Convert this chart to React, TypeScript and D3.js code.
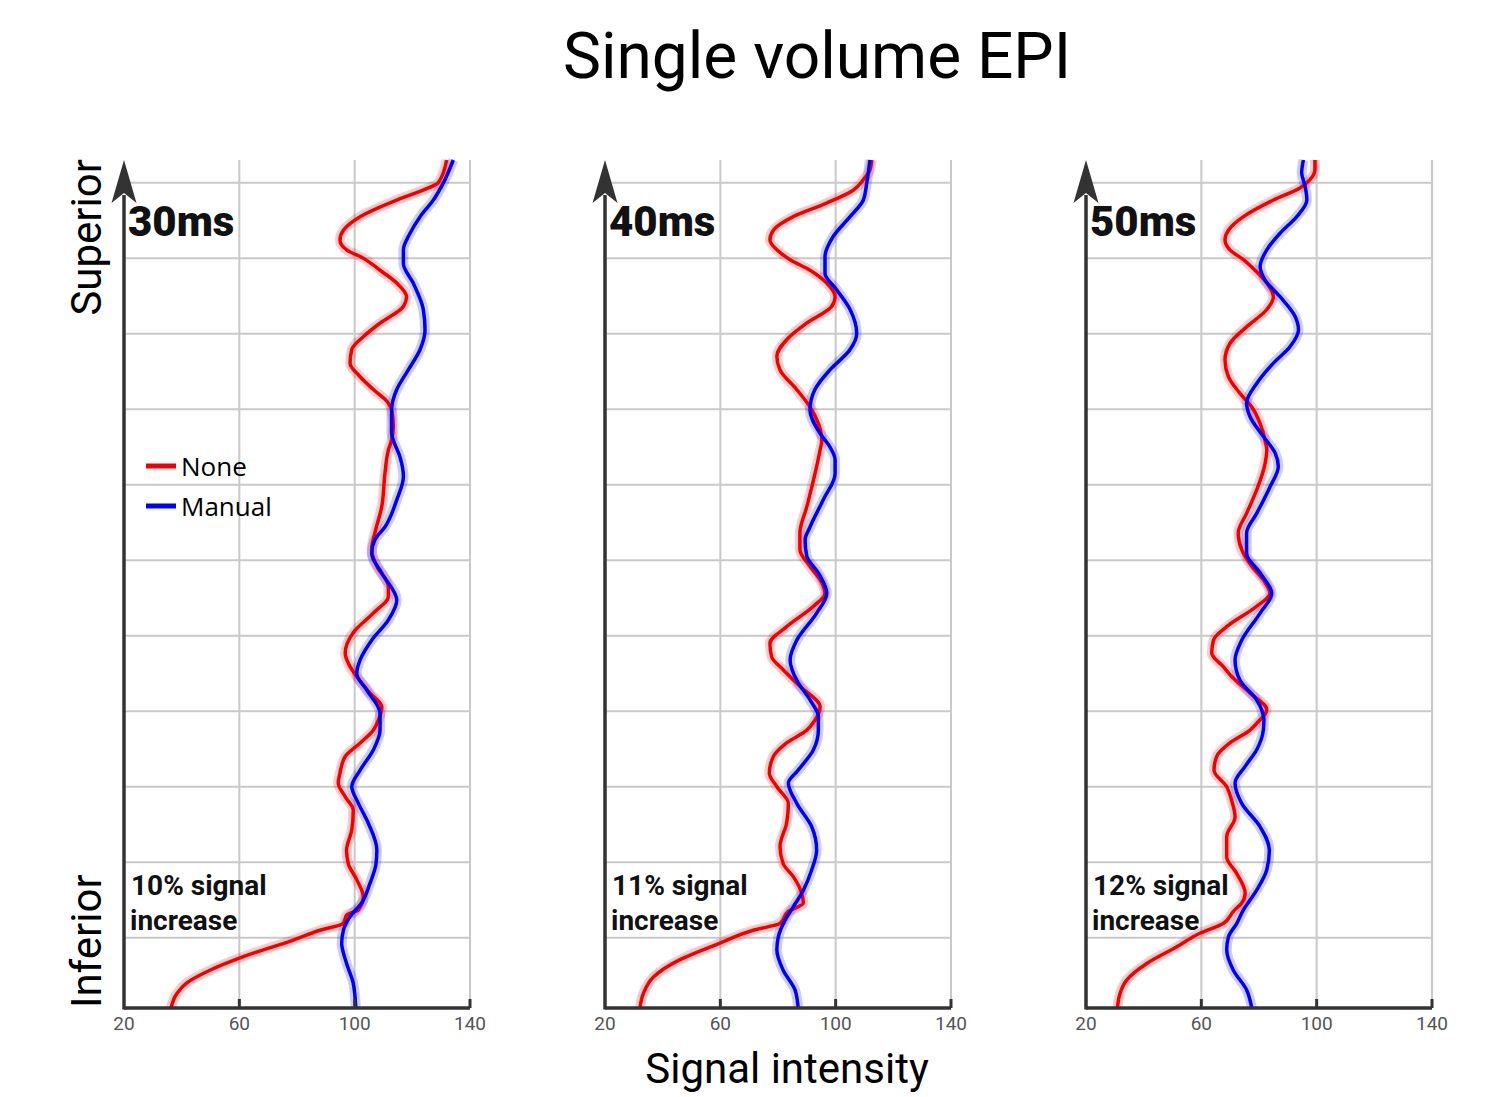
import React from "react";
import * as d3 from "d3";

// ---------- data ----------
const xTicks = [20, 60, 100, 140];
const xGrid = [60, 100, 140];
const yGrid = [9.3, 19.3, 29.3, 39.3, 49.3, 59.3, 69.3, 79.3, 89.3, 99.3, 109.3];
const yDomain: [number, number] = [0, 112.3];

const echoTimes = ["30ms", "40ms", "50ms"];
const signalIncrease = ["10% signal", "11% signal", "12% signal"];
const seriesNames = ["None", "Manual"];

// [position (inferior -> superior), signal intensity]
const none30: [number, number][] = [
  [112.3, 131.9], [109.3, 129], [108.3, 123.7], [107.0, 114.6], [104.8, 101.9], [103.0, 96.1], [101.7, 94.9],
  [100.4, 97.2], [99.3, 103], [97.7, 108.8], [96.0, 114.6], [94.2, 118], [92.9, 116.9], [90.7, 108.8],
  [88.9, 103], [87.2, 99], [85.4, 98.4], [83.6, 101.9], [81.9, 106.5], [80.1, 111.7], [79.2, 112.8],
  [77.0, 113.4], [75.2, 112.8], [73.9, 111.7], [70.8, 110.5], [66.4, 109.4], [62.9, 107], [60.7, 105.9],
  [58.5, 107.7], [55.8, 111.7], [54.5, 111.7], [52.3, 106.5], [49.7, 99.5], [47.0, 96.7], [45.2, 98.4],
  [43.9, 100.7], [41.7, 105.3], [39.9, 109.4], [38.1, 108.2], [36.8, 106.5], [35.1, 101.9], [33.3, 96.7],
  [31.1, 94.9], [29.8, 94.3], [28.0, 96.7], [26.2, 99.5], [23.6, 99], [20.9, 97.2], [19.1, 97.8],
  [17.0, 100.7], [14.7, 103], [13.0, 101.3], [12.3, 97.2], [11.2, 96.1], [10.3, 88], [9.0, 78.7],
  [6.8, 61.4], [5.0, 49.8], [3.3, 41.7], [1.9, 38.3], [0, 36.3],
];
const manual30: [number, number][] = [
  [112.3, 134.2], [109.3, 130.8], [107.0, 127.3], [104.8, 122.7], [102.6, 119.2], [100.4, 116.9], [98.6, 116.9],
  [96.0, 120.3], [92.5, 123.8], [89.8, 124.4], [87.2, 122.7], [84.5, 118.6], [81.9, 114.6], [79.2, 112.8],
  [76.1, 112.8], [75.2, 113.4], [73.0, 115.7], [70.4, 116.9], [67.3, 114.6], [63.7, 110.5], [62.0, 107],
  [60.2, 105.9], [57.6, 109.4], [54.0, 114.6], [51.4, 111.7], [48.7, 105.9], [46.1, 101.9], [44.3, 100.7],
  [42.1, 104.2], [39.0, 108.8], [36.8, 108.8], [34.2, 106.5], [31.5, 101.9], [29.3, 99], [27.1, 101.3],
  [24.5, 104.7], [20.9, 107.7], [19.1, 107.4], [16.5, 105.3], [13.9, 102.4], [12.1, 98.4], [10.3, 96.1],
  [8.6, 95.5], [5.9, 97.2], [3.3, 99.5], [0, 100.4],
];
const none40: [number, number][] = [
  [112.3, 112.5], [111.0, 111.9], [109.7, 109.6], [108.3, 106.1], [106.6, 96.9], [104.8, 85.3], [103.0, 78.4],
  [101.7, 77.2], [100.4, 79.6], [99.1, 84.2], [97.7, 91.1], [96.0, 96.9], [94.2, 99.8], [92.9, 98.6],
  [90.7, 89.9], [88.5, 83], [86.3, 79.6], [84.5, 80.7], [81.9, 86.5], [79.6, 91.1], [77.4, 94], [75.2, 95.2],
  [73.9, 94.6], [69.9, 92.3], [66.4, 90], [62.9, 87.6], [60.7, 87.6], [58.5, 91.1], [56.3, 95.2], [54.9, 96.3],
  [53.2, 92.3], [50.5, 83], [48.3, 77.2], [46.5, 77.8], [44.8, 81.8], [42.6, 87.6], [39.9, 94.6], [38.1, 92.8],
  [36.8, 90], [35.1, 83], [33.3, 78.4], [31.1, 77], [29.3, 79.6], [27.1, 83.6], [24.5, 83], [21.4, 80.7],
  [19.1, 81.8], [17.4, 85.3], [15.2, 88.2], [13.9, 88.8], [12.8, 83.6], [11.2, 80.7], [10.3, 71.4],
  [8.6, 59.9], [6.4, 46], [4.1, 36.8], [1.9, 33.3], [0, 32.1],
];
const manual40: [number, number][] = [
  [112.3, 111.9], [109.3, 110.8], [107.0, 109.6], [104.8, 105], [102.2, 99.2], [99.5, 96.3], [97.3, 96.3],
  [95.1, 100.4], [92.5, 105], [89.3, 107.3], [87.2, 105], [84.5, 98], [81.9, 92.8], [79.2, 91.1], [76.1, 94.6],
  [74.3, 98], [72.6, 99.8], [70.8, 99.8], [67.3, 95.7], [63.7, 91.1], [62.0, 89.4], [59.8, 90], [57.6, 94],
  [54.9, 96.9], [52.3, 93.4], [48.7, 86.5], [46.1, 84.2], [43.4, 86.5], [40.8, 91.1], [38.6, 94], [36.8, 94],
  [34.2, 92.3], [31.5, 87], [29.8, 83.6], [27.1, 86.5], [24.0, 91.7], [20.9, 93.4], [18.3, 91.7], [15.6, 88.8],
  [13.4, 85.3], [11.6, 82.4], [9.4, 80.1], [7.7, 79.6], [5.0, 81.8], [2.4, 85.9], [0, 87],
];
const none50: [number, number][] = [
  [112.3, 99.4], [111.0, 99.4], [109.7, 97.7], [108.6, 94.2], [107.0, 85], [104.8, 74.6], [103.0, 69.4],
  [101.7, 68.2], [100.4, 69.9], [99.1, 74.6], [97.7, 78.6], [96.0, 82.7], [94.2, 85], [92.5, 82.7],
  [90.2, 75.7], [88.0, 69.9], [85.8, 68.2], [83.6, 69.4], [81.4, 73.4], [79.6, 77.5], [77.4, 80.4],
  [75.2, 82.1], [73.9, 82.7], [72.1, 82.1], [68.6, 79.2], [65.5, 75.7], [62.9, 72.8], [60.7, 74], [58.5, 77.5],
  [56.7, 81.5], [54.9, 83.8], [53.2, 79.2], [50.5, 68.8], [48.7, 64.2], [47.0, 63.6], [45.2, 67.6],
  [43.9, 70.5], [41.7, 76.9], [39.5, 82.7], [37.7, 79.2], [36.8, 76.9], [35.1, 69.9], [33.3, 65.3],
  [31.5, 64.4], [29.3, 68.8], [27.5, 70.5], [25.3, 71.7], [22.7, 68.8], [20.0, 68.8], [17.8, 72.3],
  [15.2, 75.2], [13.9, 74], [12.8, 71.1], [11.2, 67.6], [9.9, 59.5], [8.1, 51.5], [5.9, 41.1], [3.7, 34.1],
  [1.9, 31.8], [0, 30.9],
];
const manual50: [number, number][] = [
  [112.3, 95.4], [110.6, 94.8], [108.8, 96], [107.0, 96.6], [104.8, 93.1], [102.6, 87.3], [100.4, 82.7],
  [98.2, 80.4], [96.4, 82.1], [94.2, 87.3], [91.6, 92.5], [89.8, 93.7], [87.6, 90.8], [85.4, 85], [82.7, 79.2],
  [80.1, 75.7], [78.3, 76.9], [75.7, 81.5], [73.5, 85.6], [71.7, 86.7], [69.0, 83.8], [65.5, 79.2],
  [62.9, 75.7], [60.2, 75.7], [57.6, 80.4], [54.9, 84.4], [52.3, 80.4], [48.7, 74], [46.1, 71.7], [43.4, 73.4],
  [40.8, 79.2], [38.1, 81.7], [36.8, 81.5], [34.2, 79.2], [32.0, 75.2], [29.8, 71.7], [27.1, 74], [24.0, 80.4],
  [20.9, 83.6], [18.3, 82.7], [15.6, 79.2], [13.0, 74.6], [11.2, 72.3], [9.4, 69.4], [7.7, 68.8], [5.0, 71.1],
  [2.4, 75.7], [0, 77.5],
];

const noneSeries = [none30, none40, none50];
const manualSeries = [manual30, manual40, manual50];

// ---------- layout ----------
const W = 1500;
const H = 1097;
const panelLefts = [124, 605, 1086];
const panelW = 346;
const top = 160;
const bottom = 1008;
const RED = "#f20000";
const BLUE = "#0000f5";
const AXIS = "#333333";
const GRID = "#c9c9c9";
const FONT = "Roboto, 'Open Sans', sans-serif";

function Panel({ idx }: { idx: number }) {
  const x0 = panelLefts[idx];
  const x = d3.scaleLinear().domain([20, 140]).range([x0, x0 + panelW]);
  const y = d3.scaleLinear().domain(yDomain).range([bottom, top]);
  const line = d3
    .line<[number, number]>()
    .x((d) => x(d[1]))
    .y((d) => y(d[0]))
    .curve(d3.curveMonotoneY);

  const red = line(noneSeries[idx]) || "";
  const blue = line(manualSeries[idx]) || "";

  return (
    <g>
      {/* grid */}
      {xGrid.map((v) => (
        <line key={"vx" + v} x1={x(v)} x2={x(v)} y1={top} y2={bottom} stroke={GRID} strokeWidth={2} />
      ))}
      {yGrid.map((v) => (
        <line key={"hy" + v} x1={x(20)} x2={x(140)} y1={y(v)} y2={y(v)} stroke={GRID} strokeWidth={2} />
      ))}

      {/* halos */}
      <path d={red} fill="none" stroke={RED} strokeOpacity={0.2} strokeWidth={10} strokeLinejoin="round" />
      <path d={blue} fill="none" stroke={BLUE} strokeOpacity={0.2} strokeWidth={10} strokeLinejoin="round" />
      {/* lines */}
      <path d={red} fill="none" stroke={RED} strokeWidth={3.5} strokeLinejoin="round" />
      <path d={blue} fill="none" stroke={BLUE} strokeWidth={3.5} strokeLinejoin="round" />

      {/* x axis */}
      <line x1={x(20)} x2={x(140)} y1={bottom} y2={bottom} stroke={AXIS} strokeWidth={3.5} />
      {xTicks.slice(1).map((v) => (
        <line key={"t" + v} x1={x(v)} x2={x(v)} y1={bottom} y2={bottom - 9} stroke={AXIS} strokeWidth={3} />
      ))}
      {xTicks.map((v) => (
        <text key={"l" + v} x={x(v)} y={1030} textAnchor="middle" fontFamily={FONT} fontSize={19} fill="#555">
          {v}
        </text>
      ))}

      {/* y axis arrow */}
      <line x1={x0} x2={x0} y1={bottom + 1.5} y2={195} stroke={AXIS} strokeWidth={3.5} />
      <path
        d={`M${x0},${top} L${x0 - 12.5},${top + 43} L${x0},${top + 33} L${x0 + 12.5},${top + 43} Z`}
        fill={AXIS}
      />

      {/* labels */}
      <text x={x0 + 4} y={236} fontFamily={FONT} fontWeight={900} fontSize={42} fill="#111">
        {echoTimes[idx]}
      </text>
      <text x={x0 + 7} y={895} fontFamily={FONT} fontWeight="bold" fontSize={28} fill="#111">
        {signalIncrease[idx]}
      </text>
      <text x={x0 + 6} y={930} fontFamily={FONT} fontWeight="bold" fontSize={28} fill="#111">
        increase
      </text>
    </g>
  );
}

export default function App() {
  const legendX = 146;
  return (
    <svg
      width={W}
      height={H}
      viewBox={`0 0 ${W} ${H}`}
      style={{ position: "absolute", left: 0, top: 0, background: "#fff" }}
    >
      <rect x={0} y={0} width={W} height={H} fill="#fff" />
      <text x={817} y={78} textAnchor="middle" fontFamily={FONT} fontSize={64} fill="#000">
        Single volume EPI
      </text>

      {[0, 1, 2].map((i) => (
        <Panel key={i} idx={i} />
      ))}

      {/* legend */}
      {seriesNames.map((name, i) => (
        <g key={name}>
          <line
            x1={legendX}
            x2={legendX + 30}
            y1={466 + i * 40}
            y2={466 + i * 40}
            stroke={i === 0 ? RED : BLUE}
            strokeWidth={5}
          />
          <text x={legendX + 35} y={476 + i * 40} fontFamily="'Open Sans', sans-serif" fontSize={26} fill="#000">
            {name}
          </text>
        </g>
      ))}

      {/* axis titles */}
      <text
        transform={`translate(101,159) rotate(-90)`}
        textAnchor="end"
        fontFamily={FONT}
        fontSize={42}
        fill="#000"
      >
        Superior
      </text>
      <text
        transform={`translate(101,1008) rotate(-90)`}
        textAnchor="start"
        fontFamily={FONT}
        fontSize={42}
        fill="#000"
      >
        Inferior
      </text>
      <text x={787} y={1083} textAnchor="middle" fontFamily={FONT} fontSize={42} fill="#000">
        Signal intensity
      </text>
    </svg>
  );
}
